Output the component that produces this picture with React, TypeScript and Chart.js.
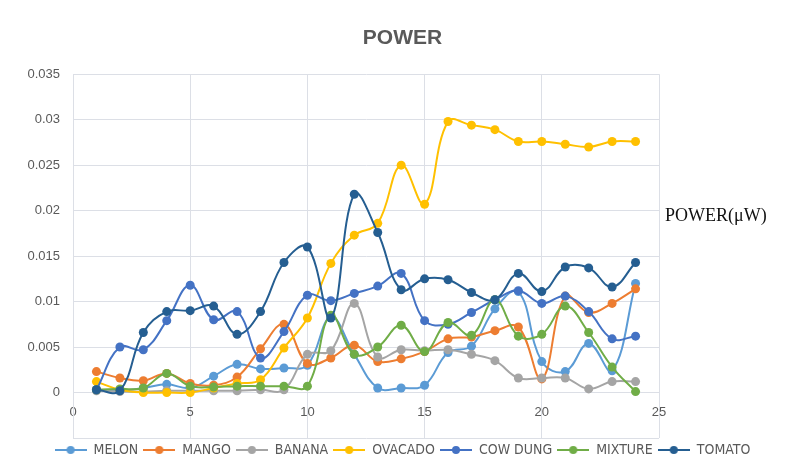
import React, { useEffect, useRef } from 'react';
import { Chart, registerables } from 'chart.js';

Chart.register(...registerables);

const xValues = [1, 2, 3, 4, 5, 6, 7, 8, 9, 10, 11, 12, 13, 14, 15, 16, 17, 18, 19, 20, 21, 22, 23, 24];

const melon = [0.0003, 0.0002, 0.0005, 0.0009, 0.0005, 0.0018, 0.0031, 0.0026, 0.0027, 0.003, 0.0083, 0.0042, 0.0005, 0.0005, 0.0008, 0.0044, 0.0051, 0.0092, 0.0111, 0.0034, 0.0023, 0.0054, 0.0024, 0.012];
const mango = [0.0023, 0.0016, 0.0013, 0.0021, 0.001, 0.0008, 0.0017, 0.0048, 0.0075, 0.0032, 0.0038, 0.0052, 0.0034, 0.0037, 0.0045, 0.0059, 0.0061, 0.0068, 0.0072, 0.0015, 0.0106, 0.0088, 0.0098, 0.0114];
const banana = [0.0002, 0.0001, 0.0001, 0.0002, 0.0002, 0.0002, 0.0002, 0.0003, 0.0003, 0.0042, 0.0046, 0.0098, 0.0039, 0.0047, 0.0046, 0.0047, 0.0042, 0.0035, 0.0016, 0.0016, 0.0016, 0.0004, 0.0012, 0.0012];
const ovacado = [0.0012, 0.0003, 0.0, 0.0, 0.0, 0.0005, 0.001, 0.0014, 0.0049, 0.0082, 0.0142, 0.0173, 0.0186, 0.025, 0.0207, 0.0298, 0.0294, 0.0289, 0.0276, 0.0276, 0.0273, 0.027, 0.0276, 0.0276];
const cowDung = [0.0003, 0.005, 0.0047, 0.0079, 0.0118, 0.008, 0.0089, 0.0038, 0.0067, 0.0107, 0.0101, 0.0109, 0.0117, 0.0131, 0.0079, 0.0075, 0.0088, 0.0102, 0.0112, 0.0098, 0.0106, 0.0089, 0.0059, 0.0062];
const mixture = [0.0003, 0.0004, 0.0005, 0.0021, 0.0007, 0.0006, 0.0007, 0.0007, 0.0007, 0.0007, 0.0085, 0.0042, 0.005, 0.0074, 0.0045, 0.0077, 0.0063, 0.0102, 0.0062, 0.0064, 0.0095, 0.0066, 0.0028, 0.0001];
const tomato = [0.0003, 0.0002, 0.0066, 0.0089, 0.009, 0.0095, 0.0064, 0.0089, 0.0143, 0.016, 0.0082, 0.0218, 0.0176, 0.0113, 0.0125, 0.0124, 0.011, 0.0102, 0.0131, 0.0111, 0.0138, 0.0137, 0.0116, 0.0143];

const seriesNames = ['MELON', 'MANGO', 'BANANA', 'OVACADO', 'COW DUNG', 'MIXTURE', 'TOMATO'];
const seriesValues = [melon, mango, banana, ovacado, cowDung, mixture, tomato];
const seriesColors = ['#5B9BD5', '#ED7D31', '#A5A5A5', '#FFC000', '#4472C4', '#70AD47', '#255E91'];

const chartTitle = 'POWER';
const sideLabel = 'POWER(\u03bcW)';
const xMin = 0;
const xMax = 25;
const xStep = 5;
const yMin = -0.005;
const yMax = 0.035;
const yStep = 0.005;

function makeMarker(color: string) {
  const c = document.createElement('canvas');
  c.width = 32;
  c.height = 10;
  const g = c.getContext('2d')!;
  g.strokeStyle = color;
  g.lineWidth = 2;
  g.beginPath();
  g.moveTo(0, 5);
  g.lineTo(32, 5);
  g.stroke();
  g.fillStyle = color;
  g.beginPath();
  g.arc(16, 5, 4, 0, Math.PI * 2);
  g.fill();
  return c;
}

const sideLabelPlugin = {
  id: 'sideLabel',
  afterDraw(chart: any) {
    const { ctx, chartArea, scales } = chart;
    ctx.save();
    ctx.font = '18px "Liberation Serif", "Times New Roman", serif';
    ctx.fillStyle = '#111111';
    ctx.textAlign = 'left';
    ctx.textBaseline = 'middle';
    ctx.fillText(sideLabel, chartArea.right + 6, scales.y.getPixelForValue(0.0194));
    ctx.restore();
  },
};

export default function App() {
  const canvasRef = useRef<HTMLCanvasElement | null>(null);

  useEffect(() => {
    document.body.style.margin = '0';
    const canvas = canvasRef.current!;
    const markers = seriesColors.map(makeMarker);
    const gridColor = '#dcdfe6';
    const tickColor = '#595959';

    const chart = new Chart(canvas, {
      type: 'line',
      data: {
        datasets: seriesNames.map((name, i) => ({
          label: name,
          data: xValues.map((x, j) => ({ x, y: seriesValues[i][j] })),
          borderColor: seriesColors[i],
          backgroundColor: seriesColors[i],
          pointBackgroundColor: seriesColors[i],
          pointBorderColor: seriesColors[i],
          pointBorderWidth: 0,
          pointRadius: 4.5,
          borderWidth: 2,
          tension: 0.4,
          fill: false,
          order: seriesNames.length - 1 - i,
        })),
      },
      options: {
        responsive: false,
        animation: false,
        devicePixelRatio: 1,
        layout: { padding: { left: 18, right: 0, top: 0, bottom: 5 } },
        plugins: {
          title: {
            display: true,
            text: chartTitle,
            color: '#595959',
            font: { family: '"Liberation Sans", Arial, sans-serif', size: 21, weight: 'bold' },
            padding: { top: 26, bottom: 23 },
          },
          legend: {
            position: 'bottom',
            labels: {
              usePointStyle: true,
              pointStyleWidth: 32,
              boxHeight: 10,
              padding: 5,
              color: '#595959',
              font: { family: '"Liberation Sans Narrow", "DejaVu Sans Condensed", "Arial Narrow", sans-serif', size: 14 },
              generateLabels: (ch: any) =>
                ch.data.datasets.map((ds: any, i: number) => ({
                  text: ds.label,
                  fillStyle: ds.borderColor,
                  strokeStyle: ds.borderColor,
                  lineWidth: 0,
                  pointStyle: markers[i],
                  hidden: false,
                  datasetIndex: i,
                  fontColor: '#595959',
                })),
            },
          },
          tooltip: { enabled: false },
        },
        scales: {
          x: {
            type: 'linear',
            position: { y: 0 } as any,
            min: xMin,
            max: xMax,
            grid: { color: gridColor, drawTicks: false, lineWidth: 1 },
            border: { display: true, color: gridColor },
            ticks: {
              stepSize: xStep,
              padding: 12,
              color: tickColor,
              font: { family: '"Liberation Sans", Arial, sans-serif', size: 13 },
            },
            afterFit: (s: any) => {
              s.height = 21;
            },
          },
          y: {
            type: 'linear',
            position: 'left',
            min: yMin,
            max: yMax,
            grid: { color: gridColor, drawTicks: false, lineWidth: 1 },
            border: { display: true, color: gridColor },
            ticks: {
              stepSize: yStep,
              padding: 13,
              color: tickColor,
              font: { family: '"Liberation Sans", Arial, sans-serif', size: 13 },
              callback: (v: any) => {
                const n = Math.round(Number(v) * 1000) / 1000;
                if (n < 0) return '';
                return String(n);
              },
            },
            afterFit: (s: any) => {
              s.width = 55;
            },
          },
          y2: {
            type: 'linear',
            position: 'right',
            display: true,
            grid: { display: false },
            border: { display: false },
            ticks: { display: false },
            afterFit: (s: any) => {
              s.width = 128;
            },
          },
        },
      },
      plugins: [sideLabelPlugin],
    } as any);

    return () => {
      chart.destroy();
    };
  }, []);

  return (
    <div style={{ width: 787, height: 472, background: '#ffffff' }}>
      <canvas ref={canvasRef} width={787} height={472} />
    </div>
  );
}
